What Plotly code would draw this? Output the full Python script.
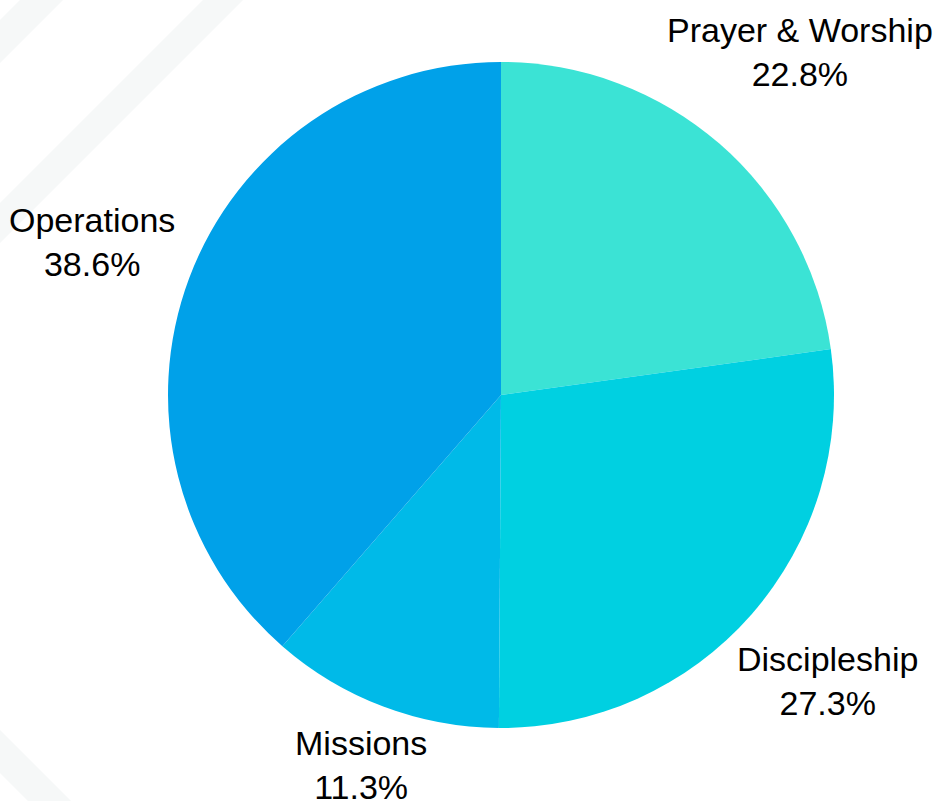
import math
import plotly.graph_objects as go

labels = ["Prayer & Worship", "Discipleship", "Missions", "Operations"]
values = [22.8, 27.3, 11.3, 38.6]
colors = ["#3be3d5", "#00d0e1", "#00bae8", "#00a1e9"]

W, H = 937, 801
cx, cy, r = 501, 395, 333
FONT = "Liberation Sans, Arial, sans-serif"
FS = 34

fig = go.Figure(go.Pie(
    labels=labels,
    values=values,
    sort=False,
    direction="clockwise",
    rotation=0,
    automargin=False,
    marker=dict(colors=colors, line=dict(width=0)),
    textinfo="none",
    showlegend=False,
    hoverinfo="label+percent",
    domain=dict(x=[(cx - r) / W, (cx + r) / W], y=[(H - cy - r) / H, (H - cy + r) / H]),
))

# approximate Arial/Liberation Sans advance widths (per em) for label box sizing
CW = {"P": .667, "r": .333, "a": .556, "y": .5, "e": .556, " ": .278, "&": .667,
      "W": .944, "o": .556, "s": .5, "h": .556, "i": .222, "p": .556, "D": .722,
      "c": .5, "l": .222, "M": .833, "n": .556, "O": .778, "t": .278, ".": .278,
      "%": .889}


def text_w(s):
    return sum(CW.get(ch, .556) for ch in s) * FS


total = sum(values)
annotations = []
cum = 0.0
for lab, val in zip(labels, values):
    mid = (cum + val / 2) / total * 2 * math.pi
    cum += val
    pct = f"{val / total * 100:.1f}%"
    hw = max(text_w(lab), text_w(pct)) / 2
    hh = 0.7 * FS
    sa, ca = math.sin(mid), math.cos(mid)
    d = r + 17 + hw * abs(sa) + hh * abs(ca)
    px_x = cx + d * sa
    px_y = cy - d * ca
    annotations.append(dict(
        x=px_x / W, y=1 - px_y / H, xref="paper", yref="paper",
        text=f"{lab}<br>{pct}", showarrow=False,
        xanchor="center", yanchor="middle", align="center",
        font=dict(family=FONT, size=FS, color="#000000"),
    ))

# decorative faint diagonal stripes in background (pixel coords -> paper)
def pp(x, y):
    return f"{x / W:.5f},{1 - y / H:.5f}"

stripes = [
    [(20, 0), (63, 0), (0, 63), (0, 20)],
    [(203, 0), (243, 0), (0, 243), (0, 203)],
    [(0, 730), (71, 801), (28, 801), (0, 773)],
]
shapes = []
for s in stripes:
    path = "M " + " L ".join(pp(x, y) for x, y in s) + " Z"
    shapes.append(dict(type="path", xref="paper", yref="paper", path=path,
                       fillcolor="#f6f8f8", line=dict(width=0), layer="below"))

fig.update_layout(
    width=W, height=H,
    margin=dict(l=0, r=0, t=0, b=0, autoexpand=False),
    paper_bgcolor="#ffffff",
    plot_bgcolor="#ffffff",
    font=dict(family=FONT, size=FS, color="#000000"),
    shapes=shapes,
    annotations=annotations,
)

fig.write_html(
    "out.html",
    config={"displayModeBar": False},
    post_script="document.body.style.margin='0px';document.body.style.overflow='hidden';",
)
